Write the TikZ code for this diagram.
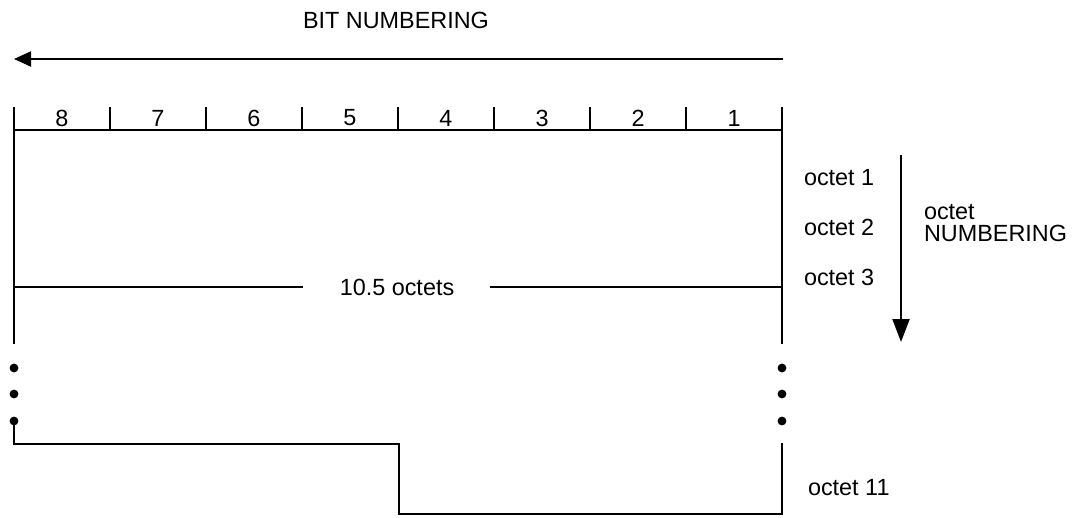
\documentclass[tikz,border=0pt]{standalone}
\usepackage{fontspec}
\setmainfont{Liberation Sans}
\usetikzlibrary{arrows.meta, positioning}

\begin{document}
\begin{tikzpicture}[x=0.5pt, y=-0.5pt, line width=1pt, every node/.style={font=\fontsize{11.7}{14}\selectfont, inner sep=0pt}]
				\useasboundingbox (0,0) rectangle (1076,518);
				%%\draw[help lines] (0,0) grid[step=50] (1076,518);
				\node (bitnum) at (396,20) {BIT NUMBERING};
				\draw [-{Triangle[length=8.5pt,width=7.5pt]}] (783,59) -- (14,59);
				
				\foreach \x in {14,110,...,782}
					\draw (\x,107) -- (\x,130);
				\foreach \b [count=\i] in {8,7,...,1}
					\node (bit\b) at (96*\i-34,118) {\b};
				\draw (14,130) -- (782,130);
				\draw (14,107) -- (14,344);
				\draw (782,107) -- (782,344);
				
				\node (total) at (397,287) {10.5 octets};
				\draw (14,287) -- (303,287);
				\draw (490,287) -- (782,287);
				
				\foreach \y in {368,394,421} {
					\fill (14,\y) circle (2.2pt);
					\fill (782,\y) circle (2.2pt);
				}
				\draw (14,421) -- (14,444) -- (399,444) -- (399,514) -- (782,514) -- (782,443);
				
				\node [anchor=west] (oct1) at (803,178) {octet 1};
				\node [anchor=west] (oct2) at (803,227) {octet 2};
				\node [anchor=west] (oct3) at (803,277) {octet 3};
				\node [anchor=west] (oct11) at (807,488) {octet 11};
				\draw [-{Triangle[length=11.5pt,width=8.5pt]}] (901,155) -- (901,342);
				\node [anchor=west, align=left, font=\fontsize{11.7}{11}\selectfont] (octnum) at (923,223) {octet\\NUMBERING};
\end{tikzpicture}
\end{document}
